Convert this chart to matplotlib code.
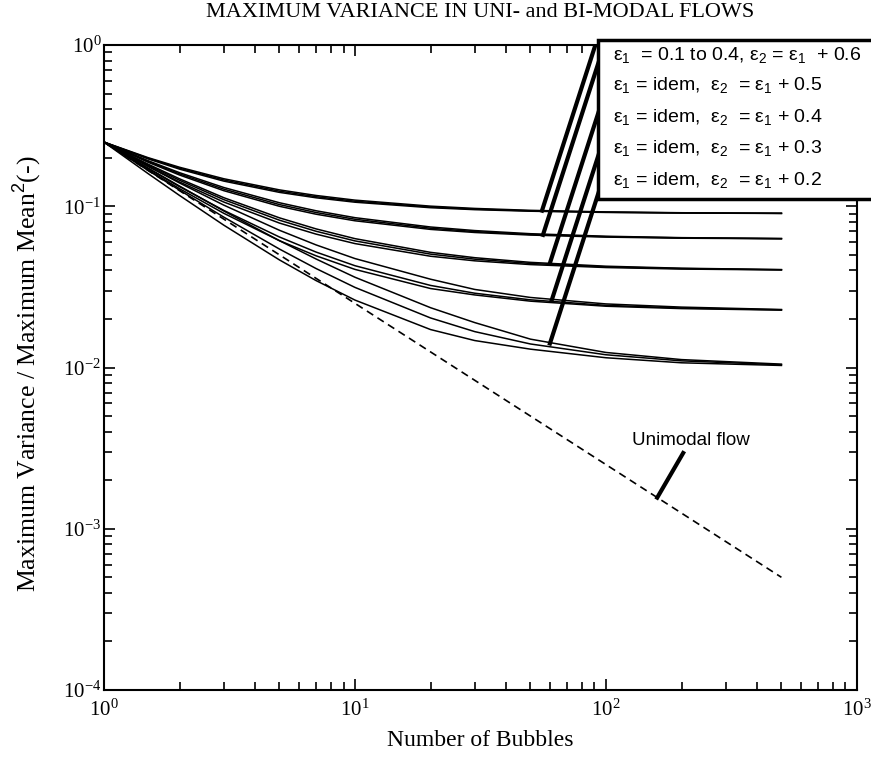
import numpy as np
import matplotlib
matplotlib.use('Agg')
import matplotlib.pyplot as plt
from matplotlib.patches import Rectangle
from matplotlib.ticker import NullFormatter

plt.rcParams['font.family'] = 'Liberation Serif'
plt.rcParams['mathtext.fontset'] = 'custom'
plt.rcParams['mathtext.rm'] = 'Liberation Sans'
plt.rcParams['mathtext.it'] = 'Liberation Sans'

# number of bubbles where the curves were read
n_bubbles = [1, 1.5, 2, 3, 5, 7, 10, 20, 30, 50, 100, 200, 500]

# bimodal curves, eps2 = eps1 + 0.6 ... + 0.2 (three eps1 values each)
a1 = [0.25, 0.2002, 0.1746, 0.1482, 0.1264, 0.1167, 0.1092, 0.1002, 0.0970, 0.0944, 0.0923, 0.0912, 0.0905]
a2 = [0.25, 0.1984, 0.1723, 0.1457, 0.1241, 0.1147, 0.1075, 0.0990, 0.0961, 0.0937, 0.0919, 0.0910, 0.0904]
a3 = [0.25, 0.1967, 0.1700, 0.1433, 0.1220, 0.1129, 0.1060, 0.0980, 0.0953, 0.0932, 0.0916, 0.0908, 0.0903]
b1 = [0.25, 0.1916, 0.1616, 0.1308, 0.1052, 0.0938, 0.0850, 0.0744, 0.0707, 0.0676, 0.0652, 0.0639, 0.0631]
b2 = [0.25, 0.1896, 0.1589, 0.1278, 0.1025, 0.0915, 0.0831, 0.0731, 0.0697, 0.0669, 0.0648, 0.0637, 0.0630]
b3 = [0.25, 0.1875, 0.1563, 0.1250, 0.1000, 0.0893, 0.0813, 0.0719, 0.0688, 0.0663, 0.0644, 0.0634, 0.0629]
c1 = [0.25, 0.1823, 0.1480, 0.1131, 0.0848, 0.0724, 0.0630, 0.0518, 0.0480, 0.0449, 0.0425, 0.0413, 0.0405]
c2 = [0.25, 0.1800, 0.1450, 0.1100, 0.0820, 0.0700, 0.0610, 0.0505, 0.0470, 0.0442, 0.0421, 0.0411, 0.0404]
c3 = [0.25, 0.1772, 0.1414, 0.1063, 0.0787, 0.0672, 0.0587, 0.0490, 0.0459, 0.0435, 0.0417, 0.0408, 0.0403]
d1 = [0.25, 0.1767, 0.1395, 0.1017, 0.0710, 0.0576, 0.0474, 0.0353, 0.0305, 0.0272, 0.0248, 0.0237, 0.0229]
d2 = [0.25, 0.1711, 0.1324, 0.0943, 0.0645, 0.0520, 0.0428, 0.0323, 0.0289, 0.0263, 0.0243, 0.0234, 0.0228]
d3 = [0.25, 0.1681, 0.1286, 0.0905, 0.0612, 0.0493, 0.0406, 0.0309, 0.0282, 0.0258, 0.0240, 0.0232, 0.0227]
e1 = [0.25, 0.1726, 0.1334, 0.0936, 0.0612, 0.0471, 0.0363, 0.0235, 0.0190, 0.0150, 0.0124, 0.0112, 0.0105]
e2 = [0.25, 0.1668, 0.1259, 0.0857, 0.0543, 0.0411, 0.0314, 0.0203, 0.0167, 0.0140, 0.0120, 0.0110, 0.0104]
e3 = [0.25, 0.1593, 0.1167, 0.0764, 0.0465, 0.0346, 0.0262, 0.0172, 0.0147, 0.0130, 0.0115, 0.0107, 0.0103]
curves = [a1, a2, a3, b1, b2, b3, c1, c2, c3, d1, d2, d3, e1, e2, e3]

# unimodal flow (dashed)
uni_n = [1, 500]
uni_y = [0.25, 0.0005]

# where the legend pointers touch each group
ptr_n = [55.6, 56.1, 59.8, 60.9, 59.8]
ptr_y = [0.094, 0.0665, 0.0445, 0.0264, 0.0141]

legend_rows = [
    r'$\varepsilon_1$  = 0.1 to 0.4, $\varepsilon_2$ = $\varepsilon_1$  + 0.6',
    r'$\varepsilon_1$ = idem,  $\varepsilon_2$  = $\varepsilon_1$ + 0.5',
    r'$\varepsilon_1$ = idem,  $\varepsilon_2$  = $\varepsilon_1$ + 0.4',
    r'$\varepsilon_1$ = idem,  $\varepsilon_2$  = $\varepsilon_1$ + 0.3',
    r'$\varepsilon_1$ = idem,  $\varepsilon_2$  = $\varepsilon_1$ + 0.2',
]

fig = plt.figure(figsize=(8.71, 7.74), dpi=100)
ax = fig.add_axes([0.1194, 0.1085, 0.8645, 0.8333])

for ys in curves:
    ax.plot(n_bubbles, ys, color='black', lw=1.1)
ax.plot(uni_n, uni_y, color='black', lw=1.2, linestyle=(0, (4.5, 3)))

# thick pointer lines from the legend box
for n, y in zip(ptr_n, ptr_y):
    top_y = 1.3
    top_n = 10 ** (np.log10(n) + (np.log10(top_y) - np.log10(y)) / 4.83)
    ax.plot([n, top_n], [y, top_y], color='black', lw=3)

ax.plot([160, 203], [0.00156, 0.00295], color='black', lw=3)
ax.text(218, 0.00355, 'Unimodal flow', family='Liberation Sans', fontsize=13.5,
        ha='center', va='center')

ax.set_xscale('log')
ax.set_yscale('log')
ax.set_xlim(1, 1000)
ax.set_ylim(1e-4, 1)
ax.xaxis.set_minor_formatter(NullFormatter())
ax.yaxis.set_minor_formatter(NullFormatter())
ax.tick_params(which='both', direction='in', top=True, right=True, width=1.2)
ax.tick_params(which='major', length=8, labelsize=15)
ax.tick_params(which='minor', length=6)
ax.tick_params(axis='x', pad=7)
ax.tick_params(axis='y', pad=2)
for s in ax.spines.values():
    s.set_linewidth(1.5)

ax.set_xlabel('Number of Bubbles', fontsize=17)
ax.xaxis.set_label_coords(0.5, -0.062)
ax.set_ylabel('Maximum Variance / Maximum Mean$^2$(-)', fontsize=18.5)
ax.yaxis.set_label_coords(-0.08, 0.49)

fig.text(0.551, 0.984, 'MAXIMUM VARIANCE IN UNI- and BI-MODAL FLOWS',
         ha='center', va='center', fontsize=16)

box = Rectangle((0.6866, 0.7429), 0.34, 0.2054, transform=fig.transFigure,
                facecolor='white', edgecolor='black', lw=2.5, zorder=5)
fig.add_artist(box)
row_y = [0.9289, 0.8902, 0.8488, 0.8088, 0.7674]
for txt, y in zip(legend_rows, row_y):
    fig.text(0.7038, y, txt, family='Liberation Sans', fontsize=14,
             ha='left', va='center', zorder=6)

fig.savefig('out.png', dpi=100)
